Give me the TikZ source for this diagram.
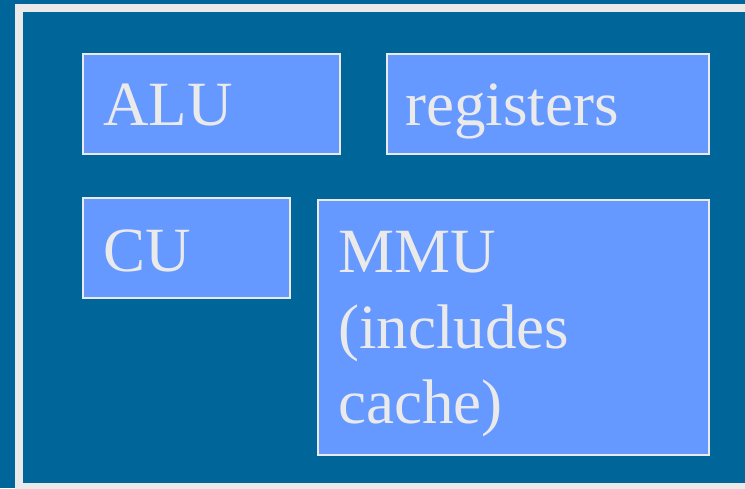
\documentclass[tikz,border=0pt]{standalone}
\usepackage{fontspec}
\setmainfont{Liberation Serif}
\definecolor{bgblue}{HTML}{006699}
\definecolor{boxblue}{HTML}{6699FF}
\definecolor{lightgray}{HTML}{EAEAEA}
\tikzset{
  unit/.style={draw=lightgray, line width=2pt, fill=boxblue, inner sep=0pt, anchor=north west},
  lbl/.style={text=lightgray, anchor=base west, inner sep=0pt, font=\fontsize{63}{76}\selectfont}
}
\begin{document}
\begin{tikzpicture}[x=1pt,y=-1pt]
\useasboundingbox (0,0) rectangle (745,488);
\clip (0,0) rectangle (745,488);
\fill[bgblue] (0,0) rectangle (745,488);
\draw[lightgray, line width=8pt] (19,8) rectangle (752,487);
\node[unit, minimum width=257pt, minimum height=100pt] (alu) at (82,53) {};
\node[unit, minimum width=322pt, minimum height=100pt] (reg) at (386,53) {};
\node[unit, minimum width=207pt, minimum height=100pt] (cu) at (82,197) {};
\node[unit, minimum width=391pt, minimum height=255pt] (mmu) at (317,199) {};
\node[lbl] (alut) at (103,125) {ALU};
\node[lbl] (regt) at (405,125) {registers};
\node[lbl] (cut) at (103,271) {CU};
\node[lbl] (mmut1) at (338,272) {MMU};
\node[lbl] (mmut2) at (338,348) {(includes};
\node[lbl] (mmut3) at (338,423) {cache)};
\end{tikzpicture}
\end{document}
